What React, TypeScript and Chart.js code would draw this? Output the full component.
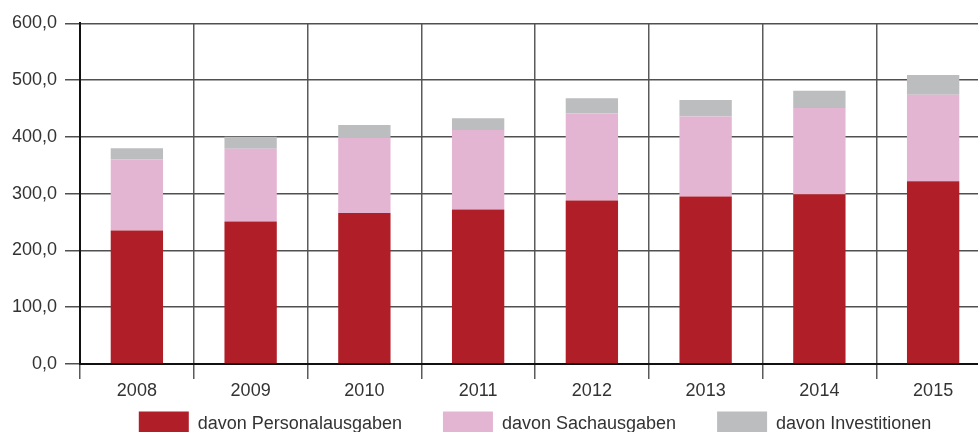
import { useEffect, useRef } from "react";
import { Chart, registerables } from "chart.js";

Chart.register(...registerables);

const years = ["2008", "2009", "2010", "2011", "2012", "2013", "2014", "2015"];
const personal = [235, 251, 266, 272, 288, 295, 299, 322];
const sach = [125, 128, 132, 140, 153, 141, 152, 152];
const invest = [20, 21, 23, 21, 27, 29, 30, 35];
const seriesNames = ["davon Personalausgaben", "davon Sachausgaben", "davon Investitionen"];
const yTicks = [0, 100, 200, 300, 400, 500, 600];

const FONT = "'Liberation Sans', Arial, sans-serif";

// the legend uses a wide item spacing, so pull it up to sit just under the year labels
const legendLift = {
  id: "legendLift",
  afterLayout(chart: Chart) {
    const lg: any = chart.legend;
    if (!lg) return;
    const h = lg.bottom - lg.top;
    lg.top = chart.chartArea.bottom + 6.5;
    lg.bottom = lg.top + h;
  },
};

const App = () => {
  const canvasRef = useRef<HTMLCanvasElement | null>(null);
  const chartRef = useRef<Chart | null>(null);

  useEffect(() => {
    if (!canvasRef.current) return;
    if (chartRef.current) chartRef.current.destroy();

    chartRef.current = new Chart(canvasRef.current, {
      type: "bar",
      data: {
        labels: years,
        datasets: [
          { label: seriesNames[0], data: personal, backgroundColor: "#B01E27", borderWidth: 0 },
          { label: seriesNames[1], data: sach, backgroundColor: "#E4B5D3", borderWidth: 0 },
          { label: seriesNames[2], data: invest, backgroundColor: "#BCBDBF", borderWidth: 0 },
        ],
      },
      plugins: [legendLift],
      options: {
        animation: false,
        responsive: true,
        maintainAspectRatio: false,
        layout: { padding: { top: 23.3, right: 10, left: 0, bottom: 0 } },
        datasets: { bar: { barPercentage: 0.46, categoryPercentage: 1 } },
        plugins: {
          tooltip: { enabled: false },
          legend: {
            position: "bottom",
            fullSize: false,
            labels: {
              boxWidth: 50,
              boxHeight: 26,
              padding: 41,
              color: "#333",
              font: { family: FONT, size: 18 },
            },
          },
        },
        scales: {
          x: {
            stacked: true,
            afterFit: (scale) => {
              scale.height = 40;
            },
            grid: { color: "#5a5a5a", lineWidth: 1.5, tickLength: 15, offset: true },
            border: { color: "#111", width: 2 },
            ticks: { color: "#333", padding: 1, font: { family: FONT, size: 18 } },
          },
          y: {
            stacked: true,
            min: 0,
            max: 600,
            afterFit: (scale) => {
              scale.width = 80;
            },
            afterBuildTicks: (scale) => {
              scale.ticks = yTicks.map((v) => ({ value: v }));
            },
            grid: { color: "#505050", lineWidth: 1.5, tickLength: 15 },
            border: { color: "#111", width: 2 },
            ticks: {
              color: "#333",
              padding: 8,
              font: { family: FONT, size: 18 },
              callback: (value) => Number(value).toFixed(1).replace(".", ","),
            },
          },
        },
      },
    });

    return () => {
      if (chartRef.current) {
        chartRef.current.destroy();
        chartRef.current = null;
      }
    };
  }, []);

  return (
    <div style={{ position: "fixed", left: 0, top: 0, width: 978, height: 432, overflow: "hidden", background: "#fff" }}>
      <div style={{ position: "relative", width: 1000, height: 481 }}>
        <canvas ref={canvasRef} />
      </div>
    </div>
  );
};

export default App;
